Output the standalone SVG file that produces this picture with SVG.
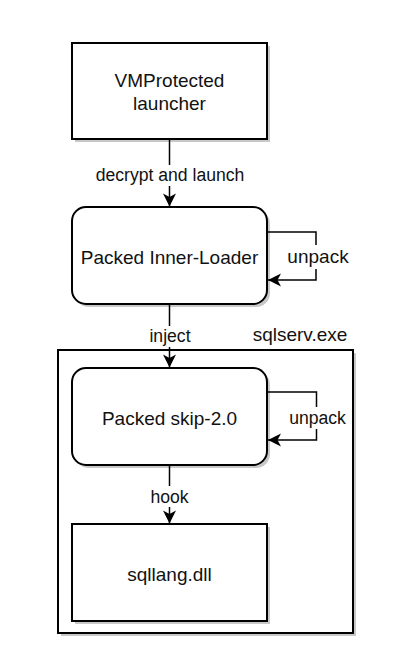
<svg xmlns="http://www.w3.org/2000/svg" width="405" height="657" viewBox="0 0 405 657">
<style>
.box{fill:#fff;stroke:#000;stroke-width:2}
.sh{fill:#c8c8c8;stroke:none}
.t{font-family:"Liberation Sans",Arial,sans-serif;font-size:19px;fill:#111;text-anchor:middle}
.l{font-family:"Liberation Sans",Arial,sans-serif;font-size:17.6px;fill:#111;text-anchor:middle}
.e{fill:none;stroke:#000;stroke-width:1.5}
.bg{fill:#fff}
</style>
<defs>
<marker id="arr" viewBox="-14 -7 15 14" markerWidth="15" markerHeight="14" refX="0" refY="0" orient="auto" markerUnits="userSpaceOnUse">
<path d="M0,0 L-13,-6.5 L-9.5,0 L-13,6.5 Z" fill="#000"/>
</marker>
</defs>
<rect width="405" height="657" fill="#fff"/>
<g id="container">
<rect class="sh" x="61" y="353" width="295" height="283"/>
<rect class="box" x="58" y="350" width="295" height="283"/>
<text class="t" x="300" y="341">sqlserv.exe</text>
</g>
<g id="launcher">
<rect class="sh" x="75" y="46" width="195" height="96"/>
<rect class="box" x="72" y="43" width="195" height="96"/>
<text class="t" x="169.5" y="87">VMProtected</text>
<text class="t" x="169.5" y="110">launcher</text>
</g>
<g id="inner-loader">
<rect class="sh" x="75" y="210" width="195" height="97" rx="14"/>
<rect class="box" x="72" y="207" width="195" height="97" rx="14"/>
<text class="t" x="169.5" y="263.5">Packed Inner-Loader</text>
</g>
<g id="skip">
<rect class="sh" x="75" y="371" width="195" height="97" rx="14"/>
<rect class="box" x="72" y="368" width="195" height="97" rx="14"/>
<text class="t" x="169.5" y="424.5">Packed skip-2.0</text>
</g>
<g id="sqllang">
<rect class="sh" x="75" y="527" width="195" height="97"/>
<rect class="box" x="72" y="524" width="195" height="97"/>
<text class="t" x="169.5" y="581">sqllang.dll</text>
</g>
<g id="connectors">
<path class="e" d="M169.5,139 V206.5" marker-end="url(#arr)"/>
<rect class="bg" x="94" y="165" width="152" height="21"/>
<text class="l" x="170" y="181">decrypt and launch</text>
<path class="e" d="M267,232 H316 V280 H268" marker-end="url(#arr)"/>
<rect class="bg" x="287" y="245" width="62" height="24"/>
<text class="t" x="318" y="263">unpack</text>
<path class="e" d="M169.5,304 V367.5" marker-end="url(#arr)"/>
<rect class="bg" x="148" y="326" width="43" height="21"/>
<text class="l" x="170" y="341.5">inject</text>
<path class="e" d="M267,392 H316.5 V440 H268" marker-end="url(#arr)"/>
<rect class="bg" x="289" y="407" width="58" height="22"/>
<text class="l" x="317.5" y="423.5">unpack</text>
<path class="e" d="M169.5,465 V523.5" marker-end="url(#arr)"/>
<rect class="bg" x="150" y="486" width="40" height="21"/>
<text class="l" x="169.5" y="502.5">hook</text>
</g>
</svg>
